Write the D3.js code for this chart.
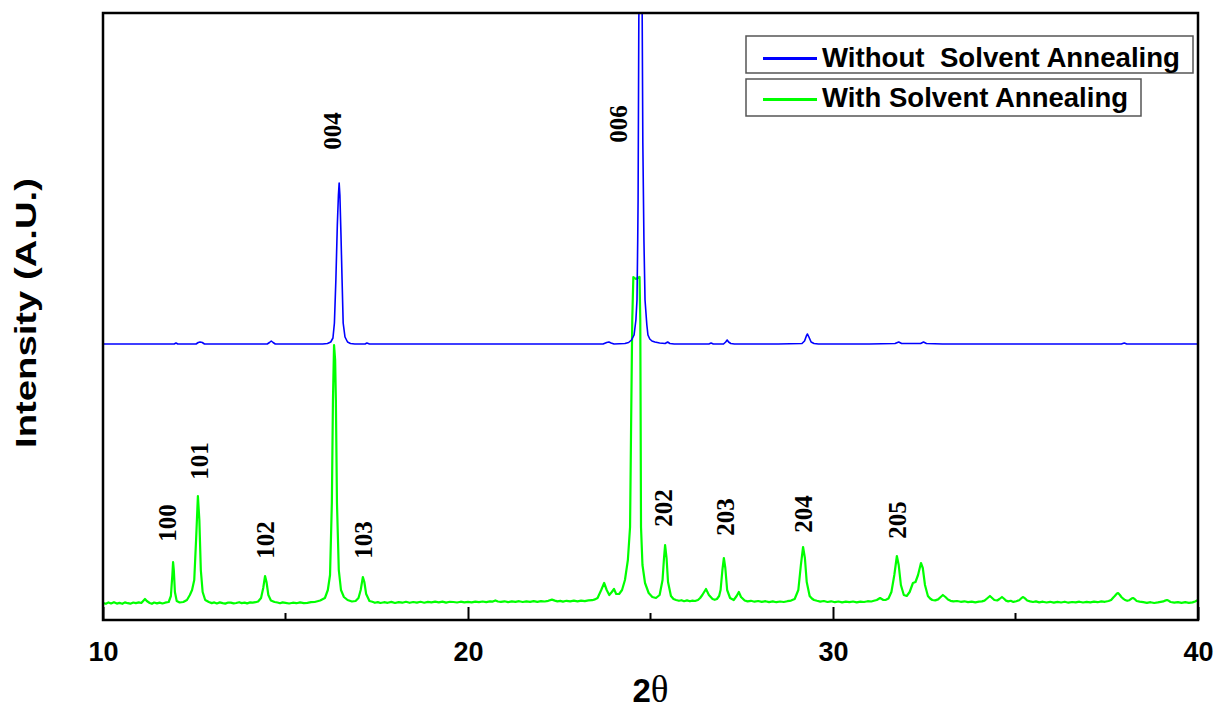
<!DOCTYPE html>
<html>
<head>
<meta charset="utf-8">
<script src="https://cdn.jsdelivr.net/npm/d3@7"></script>
<style>
  body { margin: 0; background: #fff; }
  svg { display: block; }
  .legend text { white-space: pre; }
</style>
</head>
<body>
<svg id="chart" width="1217" height="712"></svg>
<script>
// 2theta (deg), intensity (a.u.)
const withoutAnnealing = [
  [10.00,276],[10.80,276],[11.60,276],[11.95,276],[12.00,277],[12.05,276],[12.55,276],[12.61,277.5],[12.66,278],[12.72,277.5],[12.78,276],
  [13.50,276],[14.50,276],[14.56,277.5],[14.61,279],[14.66,277.5],[14.72,276],[15.50,276],[16.02,276],[16.15,276.5],[16.24,278],
  [16.30,282],[16.34,297],[16.38,340],[16.42,395],[16.45,425],[16.47,437],[16.49,425],[16.52,385],[16.55,340],[16.58,297],[16.63,283],
  [16.70,278],[16.78,276.5],[16.90,276],[17.18,276],[17.23,277],[17.30,276],[18.50,276],[20.00,276],[21.50,276],[23.00,276],[23.70,276],
  [23.80,277.5],[23.86,278],[23.92,277],[24.00,276],[24.30,276.5],[24.40,277.5],[24.48,280],[24.55,285],[24.60,300],[24.63,320],
  [24.65,380],[24.66,420],[24.68,600],[24.71,680],[24.73,720],[24.75,690],[24.77,620],[24.79,477],[24.82,380],[24.85,320],[24.90,295],
  [24.93,285],[24.98,281],[25.04,279],[25.12,278],[25.25,277],[25.40,276.5],[25.47,278],[25.53,276.5],[25.65,276],[26.30,276],
  [26.60,276],[26.66,277],[26.72,276],[27.00,276],[27.06,278],[27.10,280],[27.14,278],[27.20,276.5],[27.30,276],[28.50,276],
  [29.15,276.5],[29.22,279],[29.27,284],[29.30,286],[29.34,283],[29.40,278],[29.48,276.5],[29.60,276],[31.00,276],[31.70,276.5],
  [31.80,278],[31.88,276.5],[32.40,276.5],[32.48,278],[32.56,276.5],[33.00,276],[35.00,276],[37.90,276],[37.98,277],[38.05,276],[40.00,276]
]

const withAnnealing = [
  [10.00,17],[10.08,16.2],[10.15,17.6],[10.22,16.5],[10.30,17.8],[10.38,16.4],[10.45,17.1],[10.53,16.2],[10.60,17.6],[10.68,16.8],
  [10.75,16.3],[10.83,17.5],[10.90,16.9],[10.98,17.6],[11.05,17],[11.10,19],[11.15,21],[11.20,19],[11.28,17],[11.34,16.2],[11.40,17.5],
  [11.48,16.6],[11.55,17.4],[11.63,16.5],[11.70,17.3],[11.80,18],[11.86,24],[11.90,45],[11.92,58],[11.94,50],[11.97,28],[12.02,19],
  [12.10,17.5],[12.20,18],[12.30,20],[12.38,25],[12.44,30],[12.50,40],[12.55,80],[12.60,124],[12.64,100],[12.68,50],[12.73,28],
  [12.80,20],[12.90,18],[12.98,16.9],[13.05,17.6],[13.12,16.5],[13.20,17.6],[13.28,16.9],[13.35,16.4],[13.43,17.5],[13.50,17.4],
  [13.58,16.6],[13.65,17],[13.73,17.8],[13.80,16.9],[13.88,17.4],[13.95,16.6],[14.03,17.6],[14.10,17.3],[14.18,17.8],[14.25,18.5],
  [14.33,22],[14.39,32],[14.44,44],[14.48,38],[14.53,25],[14.60,19.5],[14.70,18],[14.78,17.5],[14.85,16.8],[14.92,17.6],[15.00,17.2],
  [15.10,16.5],[15.20,17.3],[15.30,16.8],[15.40,17.6],[15.50,16.9],[15.60,17.2],[15.70,17.8],[15.80,18],[15.95,19.5],[16.08,22],
  [16.16,30],[16.22,45],[16.27,117],[16.30,220],[16.33,275],[16.36,260],[16.38,220],[16.41,117],[16.46,50],[16.52,30],[16.60,23],
  [16.70,20],[16.82,18.5],[16.92,19],[17.00,22],[17.06,30],[17.12,43],[17.16,38],[17.21,26],[17.30,19],[17.38,18.2],[17.45,17.2],
  [17.53,17.9],[17.60,17.0],[17.70,17.8],[17.80,17.2],[17.90,18.1],[18.00,17],[18.10,17.9],[18.20,17.3],[18.30,18.2],[18.40,17.2],
  [18.50,18],[18.60,17.4],[18.70,18.2],[18.80,17.3],[18.90,18.1],[19.00,17.6],[19.10,18.3],[19.20,17.7],[19.30,18.4],[19.40,17.4],
  [19.50,18.2],[19.60,18],[19.70,17.5],[19.80,18.3],[19.90,17.6],[20.00,18.1],[20.10,17.6],[20.20,18.4],[20.30,17.8],[20.40,18.5],
  [20.50,17.9],[20.60,18.6],[20.68,18.4],[20.75,19.6],[20.82,18.5],[20.90,18.1],[21.00,18.7],[21.10,17.9],[21.20,18.6],[21.30,18.1],
  [21.40,18.8],[21.50,18.0],[21.60,18.7],[21.70,18.2],[21.80,18.9],[21.90,18.2],[22.00,18.8],[22.10,18.5],[22.20,19.2],[22.30,20.4],
  [22.38,19.4],[22.45,18.6],[22.53,19.1],[22.60,18.4],[22.70,19.2],[22.80,18.6],[22.90,19.3],[23.00,18.6],[23.10,19.4],[23.20,18.9],
  [23.30,19.6],[23.40,19.8],[23.48,20.6],[23.55,22],[23.65,30],[23.73,37],[23.80,30],[23.87,25],[23.94,28],[24.00,31],[24.06,26],
  [24.14,26],[24.22,30],[24.30,40],[24.38,60],[24.44,93],[24.47,200],[24.50,300],[24.53,343],[24.60,341],[24.70,343],[24.72,300],
  [24.73,200],[24.74,93],[24.78,55],[24.85,37],[24.95,27],[25.05,23],[25.15,22],[25.25,25],[25.33,40],[25.37,62],[25.40,75],
  [25.44,62],[25.48,38],[25.56,24],[25.63,21],[25.70,20],[25.78,19.2],[25.85,19.8],[25.92,18.8],[26.00,19.6],[26.08,18.7],[26.15,19.4],
  [26.22,19.0],[26.30,20],[26.36,22],[26.42,25],[26.52,31],[26.60,25],[26.70,21],[26.76,20.2],[26.82,21],[26.88,24],[26.92,30],
  [26.97,50],[27.01,62],[27.05,52],[27.10,30],[27.18,22],[27.28,20],[27.36,24],[27.42,28],[27.48,23],[27.58,19.5],[27.66,18.6],
  [27.75,19.2],[27.85,18.3],[27.95,19.0],[28.05,18.1],[28.15,18.8],[28.25,17.9],[28.35,18.6],[28.45,17.8],[28.55,18.5],[28.65,18.0],
  [28.75,18.8],[28.85,19.4],[28.95,21],[29.05,30],[29.12,55],[29.18,73],[29.23,62],[29.28,38],[29.36,24],[29.42,21.5],[29.48,20],
  [29.56,19.2],[29.65,18.4],[29.75,19.0],[29.85,18.0],[29.95,18.7],[30.05,17.8],[30.15,18.5],[30.25,17.6],[30.35,18.3],[30.45,17.8],
  [30.55,18.5],[30.65,17.6],[30.75,18.4],[30.85,18.0],[30.95,18.8],[31.05,18.5],[31.12,19.2],[31.20,20],[31.29,22],[31.38,20],
  [31.45,20.2],[31.52,21.5],[31.60,28],[31.68,45],[31.75,64],[31.80,55],[31.86,35],[31.94,25],[32.02,24],[32.10,28],[32.19,37],
  [32.26,38],[32.33,45],[32.41,57],[32.46,52],[32.52,35],[32.60,24],[32.66,21.5],[32.72,20],[32.80,19.6],[32.88,20.6],[32.95,23],
  [33.01,25],[33.08,23],[33.15,20.5],[33.22,19.2],[33.30,18.6],[33.40,19.0],[33.50,18.2],[33.60,18.7],[33.70,17.9],[33.80,18.4],
  [33.90,17.6],[34.00,18.3],[34.08,18.6],[34.15,19.4],[34.22,21.5],[34.30,24],[34.36,22],[34.42,20],[34.50,19.5],[34.56,21],
  [34.63,23],[34.68,21.5],[34.74,19.4],[34.80,18.6],[34.87,19.2],[34.94,18.1],[35.02,18.8],[35.10,19.8],[35.16,21.8],[35.21,23],
  [35.26,21.6],[35.32,19.5],[35.40,18.6],[35.48,18.0],[35.56,18.6],[35.65,17.6],[35.75,18.3],[35.85,17.5],[35.95,18.2],[36.05,17.4],
  [36.15,18.1],[36.25,17.5],[36.35,18.3],[36.45,17.3],[36.55,18.0],[36.65,17.6],[36.75,18.3],[36.85,17.5],[36.95,18.2],[37.05,17.7],
  [37.15,18.4],[37.25,17.8],[37.35,18.6],[37.45,18.2],[37.55,19.0],[37.62,20],[37.68,22.5],[37.72,24],[37.78,26.5],[37.81,27],
  [37.86,25],[37.90,23],[37.95,21.4],[38.00,20],[38.06,19.2],[38.12,19.8],[38.18,21.4],[38.22,22],[38.27,20.8],[38.32,19],[38.40,18.4],
  [38.50,17.8],[38.60,17.2],[38.70,17.8],[38.80,17.0],[38.90,17.6],[38.98,18.2],[39.05,18.6],[39.10,19.4],[39.15,20],[39.20,19.2],
  [39.25,18],[39.35,17.4],[39.45,17.9],[39.55,17.1],[39.65,17.8],[39.75,17.2],[39.85,17.6],[39.92,18.5],[40.00,20]
]

const seriesNames = ['Without  Solvent Annealing', 'With Solvent Annealing']
const seriesColors = ['#0000ff', '#00ff00']

// hkl label: text, 2theta of label baseline, intensity at label centre
const peakLabels = ['100', '101', '102', '103', '004', '006', '202', '203', '204', '205']
const peakLabelX = [12.00, 12.88, 14.68, 17.37, 16.52, 24.36, 25.59, 27.29, 29.42, 32.00]
const peakLabelY = [97, 159, 80, 80, 489, 496, 112, 103, 106, 100]

const majorTicks = [10, 20, 30, 40]
const minorTicks = [15, 25, 35]

const margin = { top: 13, right: 19, bottom: 92, left: 103 }
const width = 1217 - margin.left - margin.right
const height = 712 - margin.top - margin.bottom

const svg = d3.select('#chart')
svg.append('rect').attr('width', 1217).attr('height', 712).attr('fill', '#fff')

const g = svg.append('g').attr('id', 'graph-g')
  .attr('transform', 'translate(' + margin.left + ',' + margin.top + ')')

const xScale = d3.scaleLinear().domain([10, 40]).range([0, width])
const yScale = d3.scaleLinear().domain([0, 607]).range([height, 0])

g.append('clipPath').attr('id', 'plot-clip')
  .append('rect').attr('x', 0).attr('y', 0).attr('width', width).attr('height', height)

const line = d3.line()
  .x(function(d) { return xScale(d[0]) })
  .y(function(d) { return yScale(d[1]) })

const plot = g.append('g').attr('clip-path', 'url(#plot-clip)')

plot.append('path').datum(withAnnealing)
  .attr('fill', 'none').attr('stroke', seriesColors[1]).attr('stroke-width', 2.2)
  .attr('stroke-linejoin', 'round').attr('d', line)

plot.append('path').datum(withoutAnnealing)
  .attr('fill', 'none').attr('stroke', seriesColors[0]).attr('stroke-width', 1.6)
  .attr('stroke-linejoin', 'round').attr('d', line)

// frame
g.append('rect').attr('width', width).attr('height', height)
  .attr('fill', 'none').attr('stroke', '#000').attr('stroke-width', 2.5)

// bottom axis, ticks pointing inward
const xAxis = d3.axisBottom(xScale).tickValues(majorTicks).tickSize(-13).tickPadding(22)
  .tickFormat(d3.format('d'))
const axisG = g.append('g').attr('class', 'x axis')
  .attr('transform', 'translate(0,' + height + ')').call(xAxis)
axisG.select('.domain').remove()
axisG.selectAll('.tick line').attr('stroke', '#000').attr('stroke-width', 2)
axisG.selectAll('.tick text')
  .attr('font-family', '"Liberation Sans", Arial, sans-serif')
  .attr('font-weight', 'bold').attr('font-size', 27).attr('fill', '#000')

axisG.selectAll('.minor').data(minorTicks).enter().append('line')
  .attr('class', 'minor')
  .attr('x1', function(d) { return xScale(d) }).attr('x2', function(d) { return xScale(d) })
  .attr('y1', 0).attr('y2', -7)
  .attr('stroke', '#000').attr('stroke-width', 2)

// peak labels
g.selectAll('.hkl').data(peakLabels).enter().append('text')
  .attr('class', 'hkl')
  .attr('transform', function(d, i) {
    return 'translate(' + xScale(peakLabelX[i]) + ',' + yScale(peakLabelY[i]) + ') rotate(-90)'
  })
  .attr('text-anchor', 'middle')
  .attr('font-family', '"Liberation Serif", "Times New Roman", serif')
  .attr('font-weight', 'bold').attr('font-size', 25).attr('fill', '#000')
  .text(function(d) { return d })

// axis titles
svg.append('text')
  .attr('transform', 'translate(36,313) rotate(-90)')
  .attr('text-anchor', 'middle')
  .attr('font-family', '"Liberation Sans", Arial, sans-serif')
  .attr('font-weight', 'bold').attr('font-size', 29)
  .attr('textLength', 270).attr('lengthAdjust', 'spacingAndGlyphs')
  .text('Intensity (A.U.)')

const xTitle = svg.append('text')
  .attr('x', margin.left + xScale(25)).attr('y', 702)
  .attr('text-anchor', 'middle').attr('font-size', 33).attr('fill', '#000')
xTitle.append('tspan').attr('font-family', '"Liberation Sans", Arial, sans-serif')
  .attr('font-weight', 'bold').text('2')
xTitle.append('tspan').attr('font-family', '"Liberation Serif", "Times New Roman", serif')
  .attr('font-size', 37).text('θ')

// legend, one box per series
const legendBoxes = [
  { x: 746, y: 36, w: 447, h: 37, textLen: 358 },
  { x: 746, y: 79, w: 395, h: 37, textLen: 306 }
]
const legend = svg.append('g').attr('class', 'legend')
seriesNames.forEach(function(name, i) {
  const b = legendBoxes[i]
  const item = legend.append('g').attr('transform', 'translate(' + b.x + ',' + b.y + ')')
  item.append('rect').attr('width', b.w).attr('height', b.h)
    .attr('fill', '#fff').attr('stroke', '#555').attr('stroke-width', 1.5)
  item.append('line').attr('x1', 17).attr('x2', 71).attr('y1', b.h / 2 + 4 - i * 2).attr('y2', b.h / 2 + 4 - i * 2)
    .attr('stroke', seriesColors[i]).attr('stroke-width', 3)
  item.append('text').attr('x', 76).attr('y', 31 - i * 3)
    .attr('xml:space', 'preserve')
    .attr('font-family', '"Liberation Sans", Arial, sans-serif')
    .attr('font-weight', 'bold').attr('font-size', 27).attr('fill', '#000')
    .attr('textLength', b.textLen).attr('lengthAdjust', 'spacingAndGlyphs')
    .text(name)
})
</script>
</body>
</html>
